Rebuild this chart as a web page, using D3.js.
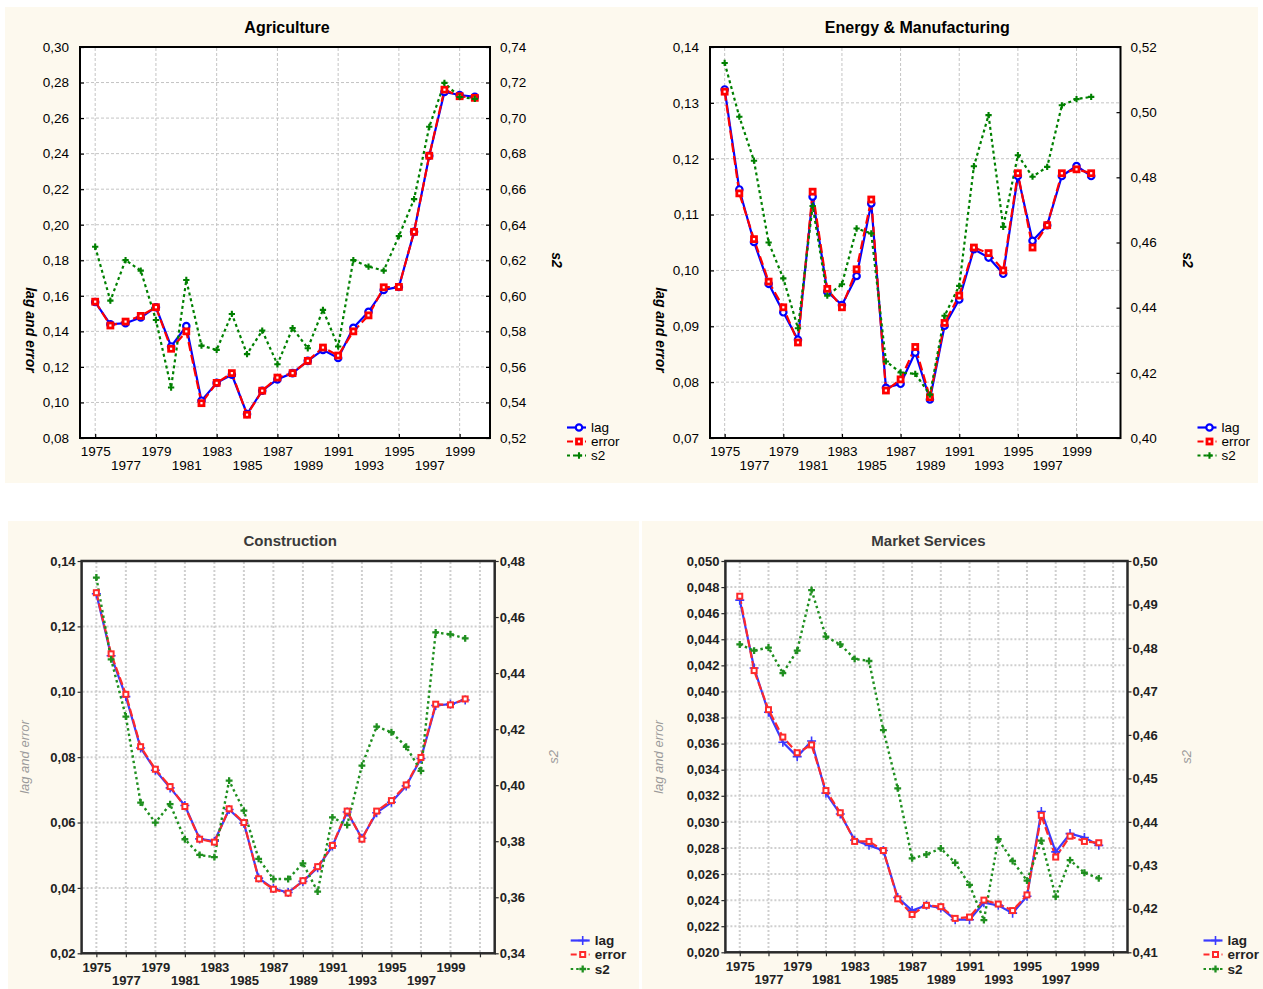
<!DOCTYPE html>
<html>
<head>
<meta charset="utf-8">
<script src="https://cdn.jsdelivr.net/npm/d3@7"></script>
<style>
  html, body { margin: 0; padding: 0; background: #ffffff; }
  svg { display: block; }
  text { font-family: "Liberation Sans", Arial, sans-serif; }
</style>
</head>
<body>
<svg id="chart" width="1263" height="989"></svg>
<script>
// ---------------- DATA ----------------
const years = [1975,1976,1977,1978,1979,1980,1981,1982,1983,1984,1985,1986,1987,
               1988,1989,1990,1991,1992,1993,1994,1995,1996,1997,1998,1999,2000];
const seriesNames = ["lag", "error", "s2"];

// Agriculture
const agriLag   = [0.1565,0.1440,0.1446,0.1478,0.1536,0.1315,0.1430,0.1010,0.1110,0.1156,0.0935,0.1066,0.1130,
                   0.1165,0.1234,0.1296,0.1250,0.1420,0.1510,0.1633,0.1650,0.1960,0.2388,0.2747,0.2730,0.2720];
const agriError = [0.1567,0.1433,0.1455,0.1487,0.1536,0.1302,0.1400,0.0996,0.1110,0.1165,0.0931,0.1066,0.1140,
                   0.1165,0.1234,0.1309,0.1264,0.1400,0.1490,0.1648,0.1650,0.1960,0.2388,0.2760,0.2723,0.2714];
const agriS2    = [0.6276,0.5973,0.6201,0.6142,0.5864,0.5484,0.6089,0.5720,0.5696,0.5898,0.5672,0.5804,0.5615,
                   0.5818,0.5705,0.5921,0.5715,0.6201,0.6164,0.6142,0.6336,0.6544,0.6951,0.7198,0.7119,0.7108];
const agriLeftTicks  = [0.08,0.10,0.12,0.14,0.16,0.18,0.20,0.22,0.24,0.26,0.28,0.30];
const agriRightTicks = [0.52,0.54,0.56,0.58,0.60,0.62,0.64,0.66,0.68,0.70,0.72,0.74];

// Energy & Manufacturing
const energyLag   = [0.1324,0.1145,0.1051,0.0976,0.0925,0.0876,0.1132,0.0962,0.0938,0.0990,0.1120,0.0790,0.0797,
                     0.0853,0.0769,0.0901,0.0948,0.1038,0.1023,0.0994,0.1169,0.1053,0.1081,0.1169,0.1187,0.1169];
const energyError = [0.1320,0.1138,0.1056,0.0980,0.0934,0.0871,0.1141,0.0967,0.0934,0.1002,0.1127,0.0785,0.0805,
                     0.0863,0.0773,0.0906,0.0955,0.1041,0.1031,0.1000,0.1174,0.1041,0.1081,0.1174,0.1181,0.1174];
const energyS2    = [0.5151,0.4986,0.4851,0.4600,0.4490,0.4337,0.4712,0.4437,0.4472,0.4643,0.4628,0.4235,0.4201,
                     0.4197,0.4133,0.4375,0.4467,0.4834,0.4991,0.4648,0.4868,0.4802,0.4832,0.5021,0.5040,0.5047];
const energyLeftTicks  = [0.07,0.08,0.09,0.10,0.11,0.12,0.13,0.14];
const energyRightTicks = [0.40,0.42,0.44,0.46,0.48,0.50,0.52];

// Construction
const consLag   = [0.1300,0.1110,0.0985,0.0828,0.0760,0.0706,0.0652,0.0550,0.0543,0.0640,0.0598,0.0430,0.0398,
                   0.0386,0.0420,0.0462,0.0528,0.0632,0.0552,0.0630,0.0662,0.0712,0.0796,0.0958,0.0962,0.0975];
const consError = [0.1303,0.1116,0.0992,0.0832,0.0763,0.0710,0.0649,0.0549,0.0540,0.0642,0.0600,0.0428,0.0396,
                   0.0384,0.0422,0.0465,0.0530,0.0635,0.0549,0.0635,0.0667,0.0715,0.0799,0.0962,0.0960,0.0978];
const consS2    = [0.4741,0.4449,0.4245,0.3938,0.3866,0.3932,0.3807,0.3751,0.3743,0.4016,0.3909,0.3737,0.3665,
                   0.3665,0.3721,0.3620,0.3885,0.3858,0.4070,0.4209,0.4189,0.4137,0.4051,0.4545,0.4538,0.4524];
const consLeftTicks  = [0.02,0.04,0.06,0.08,0.10,0.12,0.14];
const consRightTicks = [0.34,0.36,0.38,0.40,0.42,0.44,0.46,0.48];

// Market Services
const mktLag   = [0.0470,0.0418,0.0384,0.0361,0.0350,0.0362,0.0322,0.0306,0.0286,0.0282,0.0278,0.0242,0.0232,
                  0.0236,0.0234,0.0225,0.0225,0.0238,0.0236,0.0230,0.0243,0.0308,0.0277,0.0291,0.0288,0.0282];
const mktError = [0.0473,0.0416,0.0386,0.0365,0.0353,0.0359,0.0324,0.0307,0.0285,0.0285,0.0278,0.0241,0.0229,
                  0.0236,0.0235,0.0226,0.0227,0.0240,0.0237,0.0232,0.0244,0.0305,0.0273,0.0289,0.0285,0.0284];
const mktS2    = [0.4808,0.4794,0.4801,0.4742,0.4794,0.4933,0.4826,0.4808,0.4775,0.4770,0.4611,0.4477,0.4316,
                  0.4325,0.4339,0.4306,0.4255,0.4174,0.4360,0.4310,0.4265,0.4357,0.4228,0.4312,0.4283,0.4270];
const mktLeftTicks  = [0.020,0.022,0.024,0.026,0.028,0.030,0.032,0.034,0.036,0.038,0.040,0.042,0.044,0.046,0.048,0.050];
const mktRightTicks = [0.41,0.42,0.43,0.44,0.45,0.46,0.47,0.48,0.49,0.50];

const labelYears   = [1975,1977,1979,1981,1983,1985,1987,1989,1991,1993,1995,1997,1999];
const gridYearsTop = [1975,1979,1983,1987,1991,1995,1999];
const gridYearsBot = [1975,1977,1979,1981,1983,1985,1987,1989,1991,1993,1995,1997,1999,2001];

// ---------------- LAYOUT ----------------
const svg = d3.select("#chart");
const comma = p => v => d3.format("." + p + "f")(v).replace(".", ",");

const panels = [
  { title: "Agriculture", style: "top",
    bg: [5, 7, 631, 476], L: 80, R: 490, T: 47, B: 438, xMax: 2001,
    lag: agriLag, error: agriError, s2: agriS2,
    yl: [0.08, 0.30], yr: [0.52, 0.74], lt: agriLeftTicks, rt: agriRightTicks, lp: 2, rp: 2 },
  { title: "Energy & Manufacturing", style: "top",
    bg: [636, 7, 622, 476], L: 710, R: 1120.5, T: 47, B: 438, xMax: 2002,
    lag: energyLag, error: energyError, s2: energyS2,
    yl: [0.07, 0.14], yr: [0.40, 0.52], lt: energyLeftTicks, rt: energyRightTicks, lp: 2, rp: 2 },
  { title: "Construction", style: "bot",
    bg: [8, 521, 631, 468], L: 81.6, R: 494.7, T: 561, B: 953.3, xMax: 2002,
    lag: consLag, error: consError, s2: consS2,
    yl: [0.02, 0.14], yr: [0.34, 0.48], lt: consLeftTicks, rt: consRightTicks, lp: 2, rp: 2 },
  { title: "Market Services", style: "bot",
    bg: [642, 521, 621, 468], L: 725.4, R: 1127.5, T: 561, B: 952.3, xMax: 2002,
    lag: mktLag, error: mktError, s2: mktS2,
    yl: [0.020, 0.050], yr: [0.41, 0.50], lt: mktLeftTicks, rt: mktRightTicks, lp: 3, rp: 2 }
];

const STY = {
  top: { lagC: "#0000ff", errC: "#ff0000", s2C: "#008000", frame: "#000", frameW: 2,
         grid: "#c4c4c4", gridW: 1, gridDash: "3,2", text: "#000", tickFS: 13.5,
         titleFS: 16, titleW: "bold", titleC: "#000", axTitleFS: 14, axTitleStyle: "italic",
         axTitleW: "bold", axTitleC: "#000", lineW: 2.2, tickLen: 4 },
  bot: { lagC: "#3a3aff", errC: "#ff2a2a", s2C: "#1f8f1f", frame: "#2a2a2a", frameW: 2.5,
         grid: "#cfcfcf", gridW: 2, gridDash: "2,2", text: "#222", tickFS: 13,
         titleFS: 15, titleW: "bold", titleC: "#3a3a3a", axTitleFS: 13, axTitleStyle: "italic",
         axTitleW: "normal", axTitleC: "#9a9a9a", lineW: 2.2, tickLen: 4 }
};

function drawPanel(p) {
  const s = STY[p.style];
  const top = p.style === "top";
  const g = svg.append("g");

  // backgrounds
  g.append("rect").attr("x", p.bg[0]).attr("y", p.bg[1]).attr("width", p.bg[2]).attr("height", p.bg[3])
    .attr("fill", "#fdf9ee");
  g.append("rect").attr("x", p.L).attr("y", p.T).attr("width", p.R - p.L).attr("height", p.B - p.T)
    .attr("fill", "#ffffff");

  const x  = d3.scaleLinear().domain([1974, p.xMax]).range([p.L, p.R]);
  const yL = d3.scaleLinear().domain(p.yl).range([p.B, p.T]);
  const yR = d3.scaleLinear().domain(p.yr).range([p.B, p.T]);

  // grid
  const gridYears = top ? gridYearsTop : gridYearsBot;
  const grid = g.append("g").attr("stroke", s.grid).attr("stroke-width", s.gridW)
    .attr("stroke-dasharray", s.gridDash).attr("fill", "none");
  grid.selectAll("line.v").data(gridYears).join("line").attr("class", "v")
    .attr("x1", d => x(d)).attr("x2", d => x(d)).attr("y1", p.T + 1).attr("y2", p.B - 1);
  grid.selectAll("line.h").data(p.lt.slice(1, -1)).join("line").attr("class", "h")
    .attr("x1", p.L + 1).attr("x2", p.R - 1).attr("y1", d => yL(d)).attr("y2", d => yL(d));

  // axes
  const tl = top ? -s.tickLen : s.tickLen;  // inward for top panels, outward for bottom
  const ax = g.append("g").attr("class", "axes");
  const left = ax.append("g").attr("transform", `translate(${p.L},0)`)
    .call(d3.axisLeft(yL).tickValues(p.lt).tickFormat(comma(p.lp)).tickSize(tl).tickPadding(top ? 7 + s.tickLen : 2));
  const right = ax.append("g").attr("transform", `translate(${p.R},0)`)
    .call(d3.axisRight(yR).tickValues(p.rt).tickFormat(comma(p.rp)).tickSize(tl).tickPadding(top ? 6 + s.tickLen : 1));
  const bottom = ax.append("g").attr("transform", `translate(0,${p.B})`)
    .call(d3.axisBottom(x).tickValues(gridYears).tickFormat("").tickSize(tl));
  const labels = ax.append("g").attr("transform", `translate(0,${p.B})`)
    .call(d3.axisBottom(x).tickValues(labelYears).tickFormat(d3.format("d")).tickSize(0));
  labels.selectAll("line").remove();
  labels.selectAll("text")
    .attr("dy", null)
    .attr("y", d => {
      const row = ((d - 1975) / 2) % 2;
      if (top) return row === 0 ? 18 : 32;
      return row === 0 ? 19 : 32;
    });
  [left, right, bottom, labels].forEach(a => {
    a.select(".domain").remove();
    a.selectAll("line").attr("stroke", s.frame).attr("stroke-width", 1.2);
    a.selectAll("text").attr("fill", s.text).style("font-size", s.tickFS + "px")
      .style("font-family", '"Liberation Sans", Arial, sans-serif')
      .style("font-weight", top ? "normal" : "bold");
  });

  // frame
  g.append("rect").attr("x", p.L).attr("y", p.T).attr("width", p.R - p.L).attr("height", p.B - p.T)
    .attr("fill", "none").attr("stroke", s.frame).attr("stroke-width", s.frameW);

  // titles
  g.append("text").attr("x", (p.L + p.R) / 2 + 2).attr("y", top ? 33.3 : 546)
    .attr("text-anchor", "middle").attr("fill", s.titleC)
    .style("font-size", s.titleFS + "px").style("font-weight", s.titleW).text(p.title);

  const axTitleY = top ? 330 : 757;
  const lx = top ? p.L - 49 : (p.title === "Construction" ? p.L - 57 : p.L - 67);
  const rx = top ? p.R + 67 : p.R + 59;
  const rot = top ? 90 : -90;
  g.append("text").attr("transform", `translate(${lx},${axTitleY}) rotate(${rot})`)
    .attr("text-anchor", "middle").attr("dy", "0.35em").attr("fill", s.axTitleC)
    .style("font-size", s.axTitleFS + "px").style("font-style", s.axTitleStyle)
    .style("font-weight", s.axTitleW).text("lag and error");
  g.append("text").attr("transform", `translate(${rx},${top ? 260 : 757}) rotate(${rot})`)
    .attr("text-anchor", "middle").attr("dy", "0.35em").attr("fill", s.axTitleC)
    .style("font-size", s.axTitleFS + "px").style("font-style", s.axTitleStyle)
    .style("font-weight", s.axTitleW).text("s2");

  // series
  const rows = years.map((yr, i) => ({ year: yr, lag: p.lag[i], error: p.error[i], s2: p.s2[i] }));
  const lineL = k => d3.line().x(d => x(d.year)).y(d => yL(d[k]));
  const lineR = d3.line().x(d => x(d.year)).y(d => yR(d.s2));

  const plot = g.append("g");
  const errDash = top ? "9,4" : "8,3";
  const s2Dash = top ? "3,3" : "2.5,3";

  // lag
  plot.append("path").datum(rows).attr("d", lineL("lag")).attr("fill", "none")
    .attr("stroke", s.lagC).attr("stroke-width", s.lineW).attr("stroke-linejoin", "round");
  // error
  plot.append("path").datum(rows).attr("d", lineL("error")).attr("fill", "none")
    .attr("stroke", s.errC).attr("stroke-width", s.lineW).attr("stroke-dasharray", errDash);
  // s2
  plot.append("path").datum(rows).attr("d", lineR).attr("fill", "none")
    .attr("stroke", s.s2C).attr("stroke-width", top ? 2.2 : 2.4).attr("stroke-dasharray", s2Dash);

  const cross = d3.symbol().type(d3.symbolCross).size(top ? 22 : 26);

  function lagMarker(sel) {
    if (top) {
      sel.append("circle").attr("r", 3.2).attr("fill", "#fff").attr("stroke", s.lagC).attr("stroke-width", 2.2);
    } else {
      sel.append("path").attr("d", "M-4.5,0H4.5M0,-4.5V4.5").attr("stroke", s.lagC).attr("stroke-width", 1.6);
    }
  }
  function errMarker(sel) {
    const w = top ? 5 : 5;
    sel.append("rect").attr("x", -w / 2).attr("y", -w / 2).attr("width", w).attr("height", w)
      .attr("fill", "#fff").attr("stroke", s.errC).attr("stroke-width", top ? 2.8 : 2);
  }
  function s2Marker(sel) {
    sel.append("path").attr("d", cross).attr("fill", s.s2C);
  }

  plot.append("g").selectAll("g").data(rows).join("g")
    .attr("transform", d => `translate(${x(d.year)},${yL(d.lag)})`).call(lagMarker);
  plot.append("g").selectAll("g").data(rows).join("g")
    .attr("transform", d => `translate(${x(d.year)},${yL(d.error)})`).call(errMarker);
  plot.append("g").selectAll("g").data(rows).join("g")
    .attr("transform", d => `translate(${x(d.year)},${yR(d.s2)})`).call(s2Marker);

  // legend
  const lgX = top ? p.R + 77 : p.R + 76;
  const lgY = top ? [427.5, 441.5, 455.5] : [940.5, 954.5, 969];
  const lg = g.append("g");
  seriesNames.forEach((name, i) => {
    const row = lg.append("g").attr("transform", `translate(${lgX},${lgY[i]})`);
    const color = i === 0 ? s.lagC : i === 1 ? s.errC : s.s2C;
    const dash = i === 0 ? null : i === 1 ? "6,3" : s2Dash;
    row.append("line").attr("x1", 0).attr("x2", 19).attr("y1", 0).attr("y2", 0)
      .attr("stroke", color).attr("stroke-width", s.lineW).attr("stroke-dasharray", dash);
    const m = row.append("g").attr("transform", "translate(12,0)");
    if (i === 0) lagMarker(m); else if (i === 1) errMarker(m); else s2Marker(m);
    row.append("text").attr("x", 24).attr("dy", "0.35em").attr("fill", s.text)
      .style("font-size", "13.5px").style("font-weight", top ? "normal" : "bold").text(name);
  });
}

panels.forEach(drawPanel);
</script>
</body>
</html>
